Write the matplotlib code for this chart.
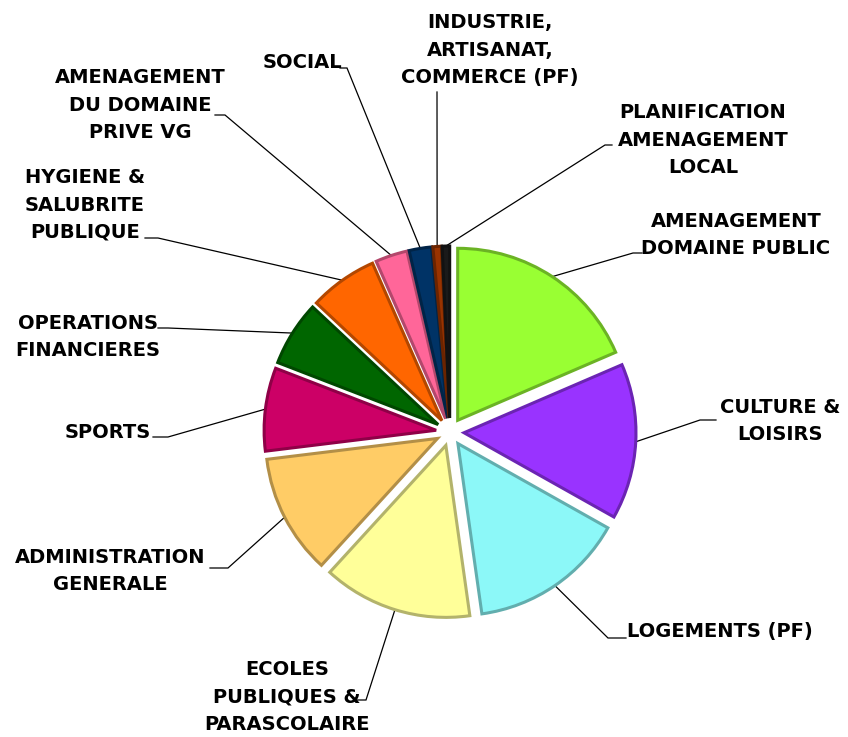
import matplotlib
matplotlib.use("Agg")
import matplotlib.pyplot as plt
import matplotlib.colors as mcolors
import numpy as np

# ---- data ----
labels = ["AMENAGEMENT\nDOMAINE PUBLIC", "CULTURE &\nLOISIRS", "LOGEMENTS (PF)",
          "ECOLES\nPUBLIQUES &\nPARASCOLAIRE", "ADMINISTRATION\nGENERALE", "SPORTS",
          "OPERATIONS\nFINANCIERES", "HYGIENE &\nSALUBRITE\nPUBLIQUE",
          "AMENAGEMENT\nDU DOMAINE\nPRIVE VG", "SOCIAL",
          "INDUSTRIE,\nARTISANAT,\nCOMMERCE (PF)", "PLANIFICATION\nAMENAGEMENT\nLOCAL"]
values = [18.5, 14.6, 14.6, 14.0, 11.25, 7.8, 6.1, 6.4, 3.0, 2.1, 0.8, 0.7]
colors = ["#99FF33", "#9933FF", "#8CF8F8", "#FFFF99", "#FFCC66", "#CC0066",
          "#006600", "#FF6600", "#FF6699", "#003366", "#993300", "#1A1A1A"]

# ---- layout (pixel coords, y measured from top) ----
W, H = 848, 737
CX, CY, R, EXPL = 450, 432, 172, 14
text_pos = [(736, 235), (780, 421), (720, 631), (287, 697), (110, 571), (108, 432),
            (88, 337), (85, 205), (140, 105), (302, 62), (490, 50), (703, 140)]
elbows = [(633, 253), (700, 420), (608, 638), (366, 700), (228, 568), (168, 437),
          (168, 328), (158, 238), (225, 115), (347, 68), (437, 92), (605, 145)]
ends = [(642, 253), (716, 420), (626, 638), (357, 700), (210, 568), (153, 437),
        (158, 328), (145, 238), (215, 115), (340, 68), (437, 92), (612, 145)]

fig = plt.figure(figsize=(W / 100, H / 100), dpi=100)
ax = fig.add_axes([0, 0, 1, 1])

def darker(c, f=0.6):
    r, g, b = mcolors.to_rgb(c)
    return (r * f, g * f, b * f)

wedges, _ = ax.pie(values, colors=colors, startangle=90, counterclock=False,
                   radius=R, center=(CX, H - CY), explode=[EXPL] * len(values),
                   wedgeprops=dict(linewidth=2.2), frame=True)
for w, c in zip(wedges, colors):
    w.set_edgecolor(darker(c, 0.7))
    w.set_joinstyle("miter")
ax.set_xlim(0, W)
ax.set_ylim(0, H)
ax.set_aspect("equal")
ax.axis("off")

for i, w in enumerate(wedges):
    mid = np.deg2rad((w.theta1 + w.theta2) / 2)
    cx, cy = w.center
    sx, sy = cx + w.r * np.cos(mid), cy + w.r * np.sin(mid)
    ex, ey = elbows[i]
    fx, fy = ends[i]
    ax.plot([sx, ex, fx], [sy, H - ey, H - fy], color="black", lw=0.9,
            solid_joinstyle="miter", zorder=0.5)
    tx, ty = text_pos[i]
    ax.text(tx, H - ty, labels[i], ha="center", va="center", multialignment="center",
            fontsize=14, fontweight="bold", family="DejaVu Sans", linespacing=1.55,
            color="black")

fig.savefig("out.png", dpi=100)
